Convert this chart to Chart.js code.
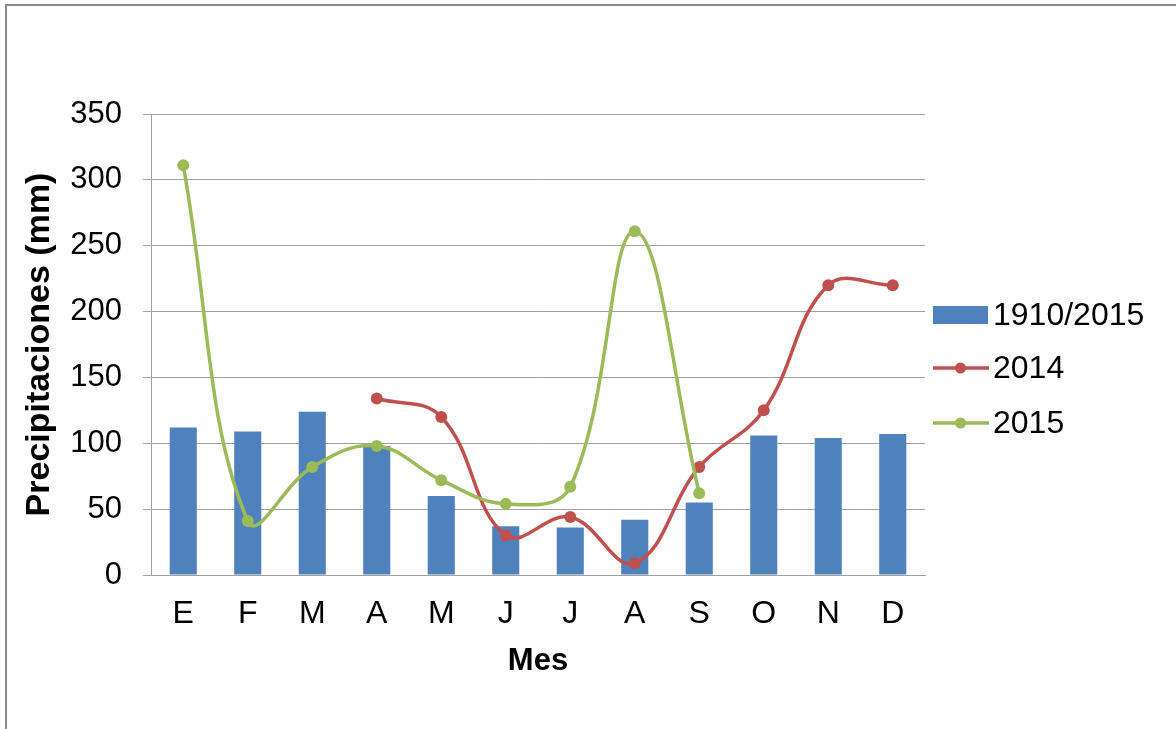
<!DOCTYPE html>
<html>
<head>
<meta charset="utf-8">
<script src="https://cdn.jsdelivr.net/npm/chart.js@4"></script>
<style>
  html, body { margin: 0; padding: 0; background: #fff; overflow: hidden; }
  #wrap { position: relative; width: 1176px; height: 729px; overflow: hidden; }
  #frame { position: absolute; left: 5px; top: 4px; width: 1200px; height: 760px;
           border-left: 2px solid #8a8a8a; border-top: 2px solid #8a8a8a; pointer-events: none; }
  canvas { display: block; }
</style>
</head>
<body>
<div id="wrap">
  <canvas id="chart" width="1176" height="729"></canvas>
  <div id="frame"></div>
</div>
<script>
// Monthly rainfall (mm)
const meses = ['E', 'F', 'M', 'A', 'M', 'J', 'J', 'A', 'S', 'O', 'N', 'D'];
const media1910_2015 = [112, 109, 124, 98, 60, 37, 36, 42, 55, 106, 104, 107];
const precip2014 = [null, null, null, 134, 120, 30, 44, 9, 82, 125, 220, 220];
const precip2015 = [311, 41, 82, 98, 72, 54, 67, 261, 62, null, null, null];

const FONT = 'Liberation Sans, Arial, sans-serif';
const GRID = '#a0a0a0';

// Legend drawn at the right: a swatch for the bars, a line with a dot for each line series
const sideLegend = {
  id: 'sideLegend',
  afterDraw(chart) {
    const ctx = chart.ctx;
    const area = chart.chartArea;
    const x0 = area.right + 8;
    const swatchW = 55;
    const rows = [area.top + 201, area.top + 254, area.top + 309];
    ctx.save();
    ctx.font = '32px ' + FONT;
    ctx.textBaseline = 'middle';
    ctx.textAlign = 'left';
    chart.data.datasets.forEach((ds, i) => {
      const y = rows[i];
      if (ds.type === 'bar') {
        ctx.fillStyle = ds.backgroundColor;
        ctx.fillRect(x0, y - 9, swatchW, 18);
      } else {
        ctx.strokeStyle = ds.borderColor;
        ctx.lineWidth = 3.5;
        ctx.beginPath();
        ctx.moveTo(x0, y);
        ctx.lineTo(x0 + swatchW + 1, y);
        ctx.stroke();
        ctx.fillStyle = ds.borderColor;
        ctx.beginPath();
        ctx.arc(x0 + swatchW / 2, y, 5.5, 0, Math.PI * 2);
        ctx.fill();
      }
      ctx.fillStyle = '#000';
      ctx.fillText(ds.label, x0 + swatchW + 5, y + 1);
    });
    ctx.restore();
  }
};

const lineStyle = (color) => ({
  type: 'line',
  borderColor: color,
  backgroundColor: color,
  pointBackgroundColor: color,
  pointBorderWidth: 0,
  pointRadius: 6,
  borderWidth: 3.5,
  tension: 0.4,
  fill: false
});

new Chart(document.getElementById('chart'), {
  data: {
    labels: meses,
    datasets: [
      {
        type: 'bar',
        label: '1910/2015',
        data: media1910_2015,
        backgroundColor: '#4f81bd',
        barPercentage: 0.42,
        categoryPercentage: 1.0,
        order: 3
      },
      Object.assign(lineStyle('#c0504d'), { label: '2014', data: precip2014, order: 2 }),
      Object.assign(lineStyle('#9bbb59'), { label: '2015', data: precip2015, order: 1 })
    ]
  },
  options: {
    responsive: false,
    animation: false,
    devicePixelRatio: 1,
    layout: { padding: { left: 0, top: 114, right: 251, bottom: 0 } },
    plugins: {
      legend: { display: false },
      tooltip: { enabled: false }
    },
    scales: {
      x: {
        grid: { display: false, drawTicks: false },
        border: { color: GRID, width: 1 },
        ticks: { color: '#000', font: { family: FONT, size: 32 }, padding: 20, maxRotation: 0, autoSkip: false },
        title: { display: true, text: 'Mes', color: '#000',
                 font: { family: FONT, size: 31, weight: 'bold' }, padding: { top: 0, bottom: 49 } },
        afterFit(scale) { scale.height = 154; }
      },
      y: {
        min: 0,
        max: 350,
        ticks: { stepSize: 50, color: '#000', font: { family: FONT, size: 31 }, padding: 21 },
        grid: { color: GRID, lineWidth: 1, tickLength: 8, drawTicks: true },
        border: { color: GRID, width: 1 },
        title: { display: true, text: 'Precipitaciones (mm)', color: '#000',
                 font: { family: FONT, size: 34, weight: 'bold' }, padding: { top: 19, bottom: 0 } },
        afterFit(scale) { scale.width = 151; }
      }
    }
  },
  plugins: [sideLegend]
});
</script>
</body>
</html>
